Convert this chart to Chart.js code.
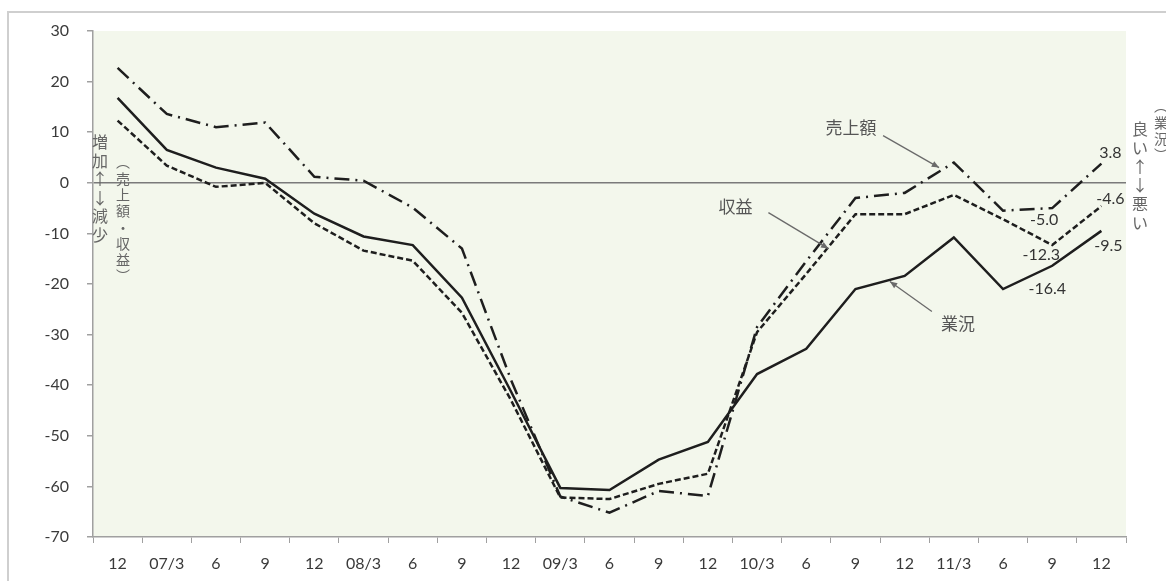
<!DOCTYPE html>
<html>
<head>
<meta charset="utf-8">
<script src="https://cdn.jsdelivr.net/npm/chart.js@4/dist/chart.umd.min.js"></script>
<style>
  html, body { margin: 0; padding: 0; background: #fff; }
  #wrap { width: 1166px; height: 581px; }
</style>
</head>
<body>
<div id="wrap"><canvas id="myChart" width="1166" height="581"></canvas></div>
<script>
// quarter labels (Dec 2006 .. Dec 2011)
var labels = ['12','07/3','6','9','12','08/3','6','9','12','09/3','6','9','12','10/3','6','9','12','11/3','6','9','12'];

// 業況 (solid)
var gyokyo = [16.8, 6.5, 3, 0.8, -6.1, -10.6, -12.3, -22.7, -41.3, -60.3, -60.7, -54.7, -51.2, -37.8, -32.8, -21, -18.4, -10.8, -21, -16.4, -9.5];
// 収益 (dashed)
var shueki = [12.3, 3.4, -0.8, 0, -8, -13.4, -15.4, -25.7, -43, -62.2, -62.5, -59.5, -57.5, -29.5, -18, -6.2, -6.2, -2.4, -7.2, -12.3, -4.6];
// 売上額 (dash-dot)
var uriage = [22.7, 13.6, 11, 11.9, 1.2, 0.4, -4.9, -13, -39, -62, -65.2, -60.9, -61.9, -28.5, -15.5, -3, -2, 4, -5.5, -5.0, 3.8];

var numFont = 'Lato, "Liberation Sans", sans-serif';
var jpFont = '"Noto Sans CJK JP", sans-serif';

// value labels: [dataset, index, text, dx, dy]
var endLabels = [
  [uriage, 20, '3.8', 9, -11],
  [shueki, 20, '-4.6', 9, -7],
  [gyokyo, 20, '-9.5', 7, 15],
  [uriage, 19, '-5.0', -8, 12],
  [shueki, 19, '-12.3', -11, 10],
  [gyokyo, 19, '-16.4', -5, 23]
];

// callouts: text, text pos offset from tip, arrow start offset from tip, tip (index, value)
var callouts = [
  { text: '売上額', idx: 16.7, val: 3, tx: -88, ty: -40, sx: -56, sy: -32 },
  { text: '収益', idx: 14.45, val: -13, tx: -93, ty: -42, sx: -60, sy: -36 },
  { text: '業況', idx: 15.7, val: -19.5, tx: 68, ty: 42, sx: 42, sy: 30 }
];

function drawVertical(ctx, chars, x, y0, step) {
  var y = y0;
  chars.forEach(function (c) {
    ctx.fillText(c, x, y);
    y += step;
  });
}

var decor = {
  id: 'decor',
  beforeDraw: function (chart) {
    var ctx = chart.ctx, a = chart.chartArea;
    ctx.save();
    ctx.fillStyle = '#ffffff';
    ctx.fillRect(0, 0, chart.width, chart.height);
    ctx.strokeStyle = '#cfcfcf';
    ctx.lineWidth = 2;
    ctx.strokeRect(8, 12, chart.width + 20, chart.height + 20);
    ctx.fillStyle = '#f3f7ec';
    ctx.fillRect(a.left, a.top, a.right - a.left, a.bottom - a.top);
    ctx.restore();
  },
  afterDatasetsDraw: function (chart) {
    var ctx = chart.ctx, xs = chart.scales.x, ys = chart.scales.y;
    ctx.save();
    ctx.textAlign = 'center';
    ctx.textBaseline = 'middle';

    // value labels near the last points
    ctx.font = '16px ' + numFont;
    ctx.fillStyle = '#333';
    endLabels.forEach(function (l) {
      var px = xs.getPixelForValue(l[1]);
      var py = ys.getPixelForValue(l[0][l[1]]);
      ctx.fillText(l[2], px + l[3], py + l[4]);
    });

    // callouts with arrows
    ctx.font = '17px ' + jpFont;
    callouts.forEach(function (c) {
      var tx = xs.getPixelForValue(c.idx);
      var ty = ys.getPixelForValue(c.val);
      ctx.fillStyle = '#555';
      ctx.fillText(c.text, tx + c.tx, ty + c.ty);
      var sx = tx + c.sx, sy = ty + c.sy;
      ctx.strokeStyle = '#6a6a6a';
      ctx.lineWidth = 1.3;
      ctx.beginPath();
      ctx.moveTo(sx, sy);
      ctx.lineTo(tx, ty);
      ctx.stroke();
      var ang = Math.atan2(ty - sy, tx - sx);
      ctx.fillStyle = '#6a6a6a';
      ctx.beginPath();
      ctx.moveTo(tx, ty);
      ctx.lineTo(tx - 8 * Math.cos(ang - 0.4), ty - 8 * Math.sin(ang - 0.4));
      ctx.lineTo(tx - 8 * Math.cos(ang + 0.4), ty - 8 * Math.sin(ang + 0.4));
      ctx.closePath();
      ctx.fill();
    });

    // vertical side captions
    ctx.fillStyle = '#666';
    ctx.font = '16px ' + jpFont;
    drawVertical(ctx, ['増', '加', '↑', '↓', '減', '少'], 100, 142, 18.5);
    ctx.font = '14px ' + jpFont;
    drawVertical(ctx, ['︵', '売', '上', '額', '・', '収', '益', '︶'], 123, 162, 16.3);
    ctx.font = '16px ' + jpFont;
    drawVertical(ctx, ['良', 'い', '↑', '↓', '悪', 'い'], 1140, 129, 18.8);
    ctx.font = '14px ' + jpFont;
    drawVertical(ctx, ['︵', '業', '況', '︶'], 1161, 106, 16.3);
    ctx.restore();
  }
};

new Chart('myChart', {
  type: 'line',
  data: {
    labels: labels,
    datasets: [
      { label: '売上額', data: uriage, borderColor: '#1e1e1e', borderWidth: 2.5, borderDash: [15, 6, 2, 6], pointRadius: 0, tension: 0, fill: false },
      { label: '収益', data: shueki, borderColor: '#1e1e1e', borderWidth: 2.5, borderDash: [6, 3], pointRadius: 0, tension: 0, fill: false },
      { label: '業況', data: gyokyo, borderColor: '#1e1e1e', borderWidth: 2.5, pointRadius: 0, tension: 0, fill: false }
    ]
  },
  options: {
    responsive: false,
    animation: false,
    layout: { padding: { top: 31, right: 40, left: 0, bottom: 0 } },
    plugins: {
      legend: { display: false },
      tooltip: { enabled: false }
    },
    scales: {
      x: {
        offset: true,
        grid: { offset: true, drawOnChartArea: false, drawTicks: true, tickLength: 6, color: '#a0a0a0' },
        border: { color: '#a0a0a0', width: 1.5 },
        ticks: { font: { family: numFont, size: 16 }, color: '#3a3a3a', padding: 11, maxRotation: 0, autoSkip: false },
        afterFit: function (s) { s.height = 44; }
      },
      y: {
        min: -70,
        max: 30,
        ticks: { stepSize: 10, font: { family: numFont, size: 16 }, color: '#3a3a3a', padding: 18 },
        grid: {
          drawTicks: true,
          tickLength: 6,
          tickColor: '#a0a0a0',
          lineWidth: 1.5,
          color: function (c) { return c.tick && c.tick.value === 0 ? '#7a7a7a' : 'rgba(0,0,0,0)'; }
        },
        border: { color: '#a0a0a0', width: 1.5 },
        afterFit: function (s) { s.width = 93; }
      }
    }
  },
  plugins: [decor]
});
</script>
</body>
</html>
